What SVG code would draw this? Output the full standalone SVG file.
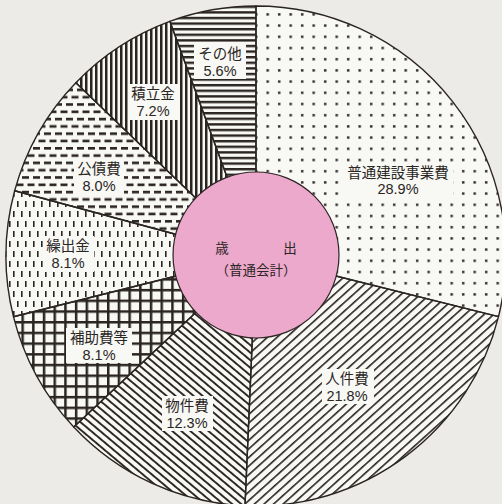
<svg xmlns="http://www.w3.org/2000/svg" width="502" height="504" viewBox="0 0 502 504">
  <style>
    .slice { stroke: #2b2522; stroke-width: 1.4; stroke-linejoin: round; }
    .lbl { font-family: "Liberation Sans", "Noto Sans CJK JP", sans-serif; font-size: 14.5px; fill: #2a2624; text-anchor: middle; }
    .ctr { font-family: "Liberation Sans", "Noto Sans CJK JP", sans-serif; font-size: 13.5px; fill: #2a2624; text-anchor: middle; }
    .box { fill: #f8f8f5; }
  </style>
  <defs>
    <pattern id="pDots" patternUnits="userSpaceOnUse" width="11.5" height="11.2">
      <rect x="2" y="2" width="2.4" height="2.4" fill="#2b2522"/>
    </pattern>
    <pattern id="pSlashUp" patternUnits="userSpaceOnUse" width="6.4" height="10" patternTransform="rotate(48)">
      <rect x="0" y="0" width="1.6" height="10" fill="#2b2522"/>
    </pattern>
    <pattern id="pSlashDown" patternUnits="userSpaceOnUse" width="5.8" height="10" patternTransform="rotate(-50)">
      <rect x="0" y="0" width="1.9" height="10" fill="#2b2522"/>
    </pattern>
    <pattern id="pGrid" patternUnits="userSpaceOnUse" width="10.7" height="10.7">
      <rect x="0" y="0" width="10.7" height="2.5" fill="#2b2522"/>
      <rect x="0" y="0" width="2.5" height="10.7" fill="#2b2522"/>
    </pattern>
    <pattern id="pVDash" patternUnits="userSpaceOnUse" width="8" height="20">
      <rect x="1" y="1" width="1.6" height="6" fill="#2b2522"/>
      <rect x="5" y="11" width="1.6" height="6" fill="#2b2522"/>
    </pattern>
    <pattern id="pHDash" patternUnits="userSpaceOnUse" width="11" height="14.6">
      <rect x="0" y="1" width="7" height="2.6" fill="#2b2522"/>
      <rect x="5.5" y="8.3" width="7" height="2.6" fill="#2b2522"/>
      <rect x="-5.5" y="8.3" width="7" height="2.6" fill="#2b2522"/>
    </pattern>
    <pattern id="pVLines" patternUnits="userSpaceOnUse" width="5" height="10">
      <rect x="0" y="0" width="2.5" height="10" fill="#2b2522"/>
    </pattern>
    <pattern id="pHLines" patternUnits="userSpaceOnUse" width="10" height="5.6">
      <rect x="0" y="0" width="10" height="2.4" fill="#2b2522"/>
    </pattern>
  </defs>

  <rect x="0" y="0" width="502" height="504" fill="#ecebe7"/>

  <!-- base white disc -->
  <circle cx="256" cy="256" r="250" fill="#f8f8f5"/>

  <g id="futsu-kensetsu">
    <path class="slice" fill="url(#pDots)" d="M256,256 L256,6 A250,250 0 0 1 498.5,316.6 Z"/>
    <rect class="box" x="343" y="162" width="110" height="36"/>
    <text class="lbl" x="398" y="177.5">普通建設事業費</text>
    <text class="lbl" x="398" y="194">28.9%</text>
  </g>

  <g id="jinkenhi">
    <path class="slice" fill="url(#pSlashUp)" d="M256,256 L498.5,316.6 A250,250 0 0 1 245,505.8 Z"/>
    <rect class="box" x="322" y="369" width="52" height="35"/>
    <text class="lbl" x="347" y="384">人件費</text>
    <text class="lbl" x="347" y="400.5">21.8%</text>
  </g>

  <g id="bukkenhi">
    <path class="slice" fill="url(#pSlashDown)" d="M256,256 L245,505.8 A250,250 0 0 1 73.75,427.1 Z"/>
    <rect class="box" x="162" y="396" width="51" height="35"/>
    <text class="lbl" x="187" y="411">物件費</text>
    <text class="lbl" x="187" y="427.5">12.3%</text>
  </g>

  <g id="hojohi">
    <path class="slice" fill="url(#pGrid)" d="M256,256 L73.75,427.1 A250,250 0 0 1 13.47,316.7 Z"/>
    <rect class="box" x="66" y="328" width="66" height="35"/>
    <text class="lbl" x="99" y="343">補助費等</text>
    <text class="lbl" x="99" y="359.5">8.1%</text>
  </g>

  <g id="kuridashikin">
    <path class="slice" fill="url(#pVDash)" d="M256,256 L13.47,316.7 A250,250 0 0 1 14.65,190.8 Z"/>
    <rect class="box" x="43" y="236" width="51" height="36"/>
    <text class="lbl" x="68" y="251">繰出金</text>
    <text class="lbl" x="68" y="268">8.1%</text>
  </g>

  <g id="kosaihi">
    <path class="slice" fill="url(#pHDash)" d="M256,256 L14.65,190.8 A250,250 0 0 1 75.86,82.65 Z"/>
    <rect class="box" x="74" y="159" width="50" height="35"/>
    <text class="lbl" x="99" y="174">公債費</text>
    <text class="lbl" x="99" y="190.5">8.0%</text>
  </g>

  <g id="tsumitatekin">
    <path class="slice" fill="url(#pVLines)" d="M256,256 L75.86,82.65 A250,250 0 0 1 169.84,21.3 Z"/>
    <rect class="box" x="128" y="84" width="51" height="36"/>
    <text class="lbl" x="153" y="99">積立金</text>
    <text class="lbl" x="153" y="116">7.2%</text>
  </g>

  <g id="sonota">
    <path class="slice" fill="url(#pHLines)" d="M256,256 L169.84,21.3 A250,250 0 0 1 256,6 Z"/>
    <rect class="box" x="194" y="44" width="52" height="35"/>
    <text class="lbl" x="220" y="59">その他</text>
    <text class="lbl" x="220" y="75.5">5.6%</text>
  </g>

  <g id="center">
    <circle cx="256" cy="255" r="83" fill="#eca9cc" stroke="#2b2522" stroke-width="1.2"/>
    <text class="ctr" y="253"><tspan x="222">歳</tspan><tspan x="290">出</tspan></text>
    <text class="ctr" x="256" y="275">（普通会計）</text>
  </g>
</svg>
